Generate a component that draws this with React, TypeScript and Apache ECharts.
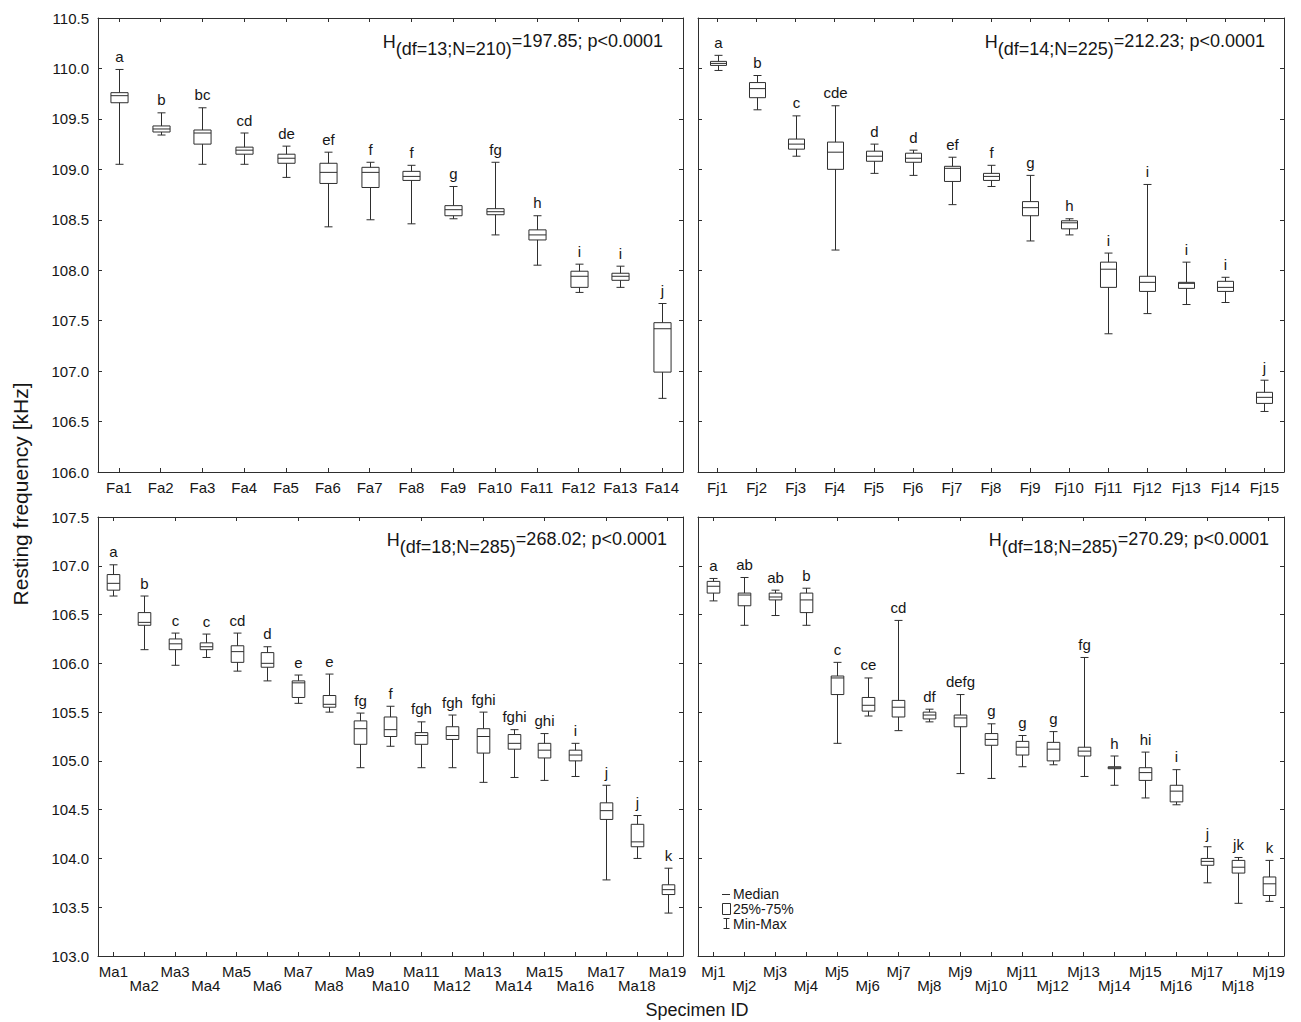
import React, { useEffect, useRef } from 'react';
import * as echarts from 'echarts';

const FONT = '"Liberation Sans", Arial, Helvetica, sans-serif';
const LINE = '#2e2e2e';
const TXT = '#161616';

// ---- Top-left panel (Fa) ----
const faCats = ['Fa1', 'Fa2', 'Fa3', 'Fa4', 'Fa5', 'Fa6', 'Fa7', 'Fa8', 'Fa9', 'Fa10', 'Fa11', 'Fa12', 'Fa13', 'Fa14'];
const faMin = [109.05, 109.34, 109.05, 109.05, 108.92, 108.43, 108.5, 108.46, 108.51, 108.35, 108.05, 107.78, 107.83, 106.73];
const faQ1 = [109.66, 109.37, 109.25, 109.15, 109.06, 108.86, 108.82, 108.89, 108.54, 108.55, 108.3, 107.83, 107.9, 106.99];
const faMed = [109.73, 109.4, 109.36, 109.19, 109.11, 108.97, 108.97, 108.93, 108.6, 108.58, 108.35, 107.94, 107.94, 107.42];
const faQ3 = [109.76, 109.43, 109.39, 109.22, 109.15, 109.06, 109.02, 108.98, 108.64, 108.61, 108.4, 107.99, 107.97, 107.48];
const faMax = [109.99, 109.56, 109.61, 109.36, 109.23, 109.17, 109.07, 109.04, 108.83, 109.07, 108.54, 108.06, 108.04, 107.67];
const faLetters = ['a', 'b', 'bc', 'cd', 'de', 'ef', 'f', 'f', 'g', 'fg', 'h', 'i', 'i', 'j'];

// ---- Top-right panel (Fj) ----
const fjCats = ['Fj1', 'Fj2', 'Fj3', 'Fj4', 'Fj5', 'Fj6', 'Fj7', 'Fj8', 'Fj9', 'Fj10', 'Fj11', 'Fj12', 'Fj13', 'Fj14', 'Fj15'];
const fjMin = [109.98, 109.59, 109.13, 108.2, 108.96, 108.94, 108.65, 108.83, 108.29, 108.35, 107.37, 107.57, 107.66, 107.68, 106.6];
const fjQ1 = [110.03, 109.71, 109.2, 109.0, 109.08, 109.07, 108.88, 108.89, 108.54, 108.41, 107.83, 107.79, 107.82, 107.79, 106.68];
const fjMed = [110.05, 109.8, 109.25, 109.17, 109.13, 109.11, 109.01, 108.93, 108.62, 108.47, 108.01, 107.88, 107.87, 107.83, 106.74];
const fjQ3 = [110.07, 109.86, 109.3, 109.27, 109.18, 109.16, 109.03, 108.96, 108.68, 108.49, 108.08, 107.94, 107.88, 107.89, 106.79];
const fjMax = [110.13, 109.93, 109.53, 109.63, 109.25, 109.19, 109.12, 109.04, 108.94, 108.51, 108.17, 108.85, 108.08, 107.93, 106.91];
const fjLetters = ['a', 'b', 'c', 'cde', 'd', 'd', 'ef', 'f', 'g', 'h', 'i', 'i', 'i', 'i', 'j'];

// ---- Bottom-left panel (Ma) ----
const maCats = ['Ma1', 'Ma2', 'Ma3', 'Ma4', 'Ma5', 'Ma6', 'Ma7', 'Ma8', 'Ma9', 'Ma10', 'Ma11', 'Ma12', 'Ma13', 'Ma14', 'Ma15', 'Ma16', 'Ma17', 'Ma18', 'Ma19'];
const maMin = [106.69, 106.14, 105.98, 106.06, 105.92, 105.82, 105.59, 105.5, 104.93, 105.15, 104.93, 104.93, 104.78, 104.83, 104.8, 104.84, 103.78, 104.0, 103.44];
const maQ1 = [106.75, 106.39, 106.14, 106.14, 106.01, 105.96, 105.65, 105.55, 105.17, 105.25, 105.17, 105.22, 105.08, 105.12, 105.03, 105.0, 104.4, 104.12, 103.63];
const maMed = [106.82, 106.42, 106.2, 106.17, 106.12, 106.0, 105.8, 105.58, 105.33, 105.32, 105.26, 105.26, 105.25, 105.18, 105.11, 105.06, 104.49, 104.17, 103.68];
const maQ3 = [106.91, 106.52, 106.25, 106.21, 106.18, 106.11, 105.82, 105.67, 105.41, 105.45, 105.29, 105.35, 105.33, 105.27, 105.18, 105.11, 104.57, 104.35, 103.73];
const maMax = [107.01, 106.69, 106.31, 106.3, 106.31, 106.17, 105.88, 105.89, 105.49, 105.56, 105.4, 105.47, 105.5, 105.32, 105.28, 105.18, 104.75, 104.44, 103.9];
const maLetters = ['a', 'b', 'c', 'c', 'cd', 'd', 'e', 'e', 'fg', 'f', 'fgh', 'fgh', 'fghi', 'fghi', 'ghi', 'i', 'j', 'j', 'k'];

// ---- Bottom-right panel (Mj) ----
const mjCats = ['Mj1', 'Mj2', 'Mj3', 'Mj4', 'Mj5', 'Mj6', 'Mj7', 'Mj8', 'Mj9', 'Mj10', 'Mj11', 'Mj12', 'Mj13', 'Mj14', 'Mj15', 'Mj16', 'Mj17', 'Mj18', 'Mj19'];
const mjMin = [106.64, 106.39, 106.49, 106.39, 105.18, 105.46, 105.31, 105.4, 104.87, 104.82, 104.94, 104.96, 104.84, 104.75, 104.62, 104.55, 103.75, 103.54, 103.56];
const mjQ1 = [106.72, 106.59, 106.65, 106.52, 105.68, 105.51, 105.45, 105.43, 105.35, 105.16, 105.06, 105.0, 105.05, 104.92, 104.8, 104.58, 103.93, 103.85, 103.62];
const mjMed = [106.79, 106.7, 106.68, 106.65, 105.85, 105.57, 105.55, 105.47, 105.44, 105.22, 105.14, 105.12, 105.1, 104.93, 104.88, 104.69, 103.97, 103.91, 103.74];
const mjQ3 = [106.84, 106.72, 106.72, 106.72, 105.87, 105.65, 105.62, 105.5, 105.47, 105.28, 105.2, 105.19, 105.14, 104.94, 104.93, 104.75, 104.0, 103.98, 103.81];
const mjMax = [106.87, 106.88, 106.75, 106.77, 106.01, 105.85, 106.44, 105.53, 105.68, 105.38, 105.26, 105.3, 106.06, 105.05, 105.09, 104.91, 104.12, 104.01, 103.98];
const mjLetters = ['a', 'ab', 'ab', 'b', 'c', 'ce', 'cd', 'df', 'defg', 'g', 'g', 'g', 'fg', 'h', 'hi', 'i', 'j', 'jk', 'k'];

// ---- Kruskal-Wallis annotations ----
const statDf = [13, 14, 18, 18];
const statN = [210, 225, 285, 285];
const statH = ['197.85', '212.23', '268.02', '270.29'];

const yTitle = 'Resting frequency [kHz]';
const xTitle = 'Specimen ID';
const legendLabels = ['Median', '25%-75%', 'Min-Max'];

type Panel = {
  cats: string[]; min: number[]; q1: number[]; med: number[]; q3: number[]; max: number[]; letters: string[];
  grid: { left: number; top: number; width: number; height: number };
  yMin: number; yMax: number; showY: boolean; twoRow: boolean; statEnd: number; statY: number;
};

const panels: Panel[] = [
  { cats: faCats, min: faMin, q1: faQ1, med: faMed, q3: faQ3, max: faMax, letters: faLetters,
    grid: { left: 98, top: 18, width: 585, height: 454 }, yMin: 106, yMax: 110.5, showY: true, twoRow: false, statEnd: 663, statY: 41.5 },
  { cats: fjCats, min: fjMin, q1: fjQ1, med: fjMed, q3: fjQ3, max: fjMax, letters: fjLetters,
    grid: { left: 698, top: 18, width: 586, height: 454 }, yMin: 106, yMax: 110.5, showY: false, twoRow: false, statEnd: 1265, statY: 41.5 },
  { cats: maCats, min: maMin, q1: maQ1, med: maMed, q3: maQ3, max: maMax, letters: maLetters,
    grid: { left: 98, top: 517, width: 585, height: 439 }, yMin: 103, yMax: 107.5, showY: true, twoRow: true, statEnd: 667, statY: 540 },
  { cats: mjCats, min: mjMin, q1: mjQ1, med: mjMed, q3: mjQ3, max: mjMax, letters: mjLetters,
    grid: { left: 698, top: 517, width: 586, height: 439 }, yMin: 103, yMax: 107.5, showY: false, twoRow: true, statEnd: 1269, statY: 540 },
];

function makeRender(letters: string[]) {
  return (params: any, api: any) => {
    const i = api.value(0);
    const pMin = api.coord([i, api.value(1)]);
    const pQ1 = api.coord([i, api.value(2)]);
    const pMed = api.coord([i, api.value(3)]);
    const pQ3 = api.coord([i, api.value(4)]);
    const pMax = api.coord([i, api.value(5)]);
    const band = api.size([1, 0])[0];
    const half = band * 0.205;
    const cap = 4;
    const cx = Math.round(pMin[0]) + 0.5;
    const ls = { stroke: LINE, lineWidth: 1 };
    return {
      type: 'group',
      children: [
        { type: 'line', shape: { x1: cx, y1: pMax[1], x2: cx, y2: pMin[1] }, style: ls },
        { type: 'line', shape: { x1: cx - cap, y1: pMax[1], x2: cx + cap, y2: pMax[1] }, style: ls },
        { type: 'line', shape: { x1: cx - cap, y1: pMin[1], x2: cx + cap, y2: pMin[1] }, style: ls },
        { type: 'rect', shape: { x: cx - half, y: pQ3[1], width: half * 2, height: pQ1[1] - pQ3[1] },
          style: { fill: '#ffffff', stroke: LINE, lineWidth: 1 } },
        { type: 'line', shape: { x1: cx - half, y1: pMed[1], x2: cx + half, y2: pMed[1] }, style: ls },
        { type: 'text', x: cx, y: pMax[1] - 13,
          style: { text: letters[params.dataIndex], textAlign: 'center', textVerticalAlign: 'middle',
            align: 'center', verticalAlign: 'middle', fontSize: 15, fontFamily: FONT, fill: TXT } },
      ],
    };
  };
}

const axisLineStyle = { color: LINE, width: 1 };

export default function App() {
  const ref = useRef<HTMLDivElement>(null);
  useEffect(() => {
    if (!ref.current) return;
    const chart = echarts.init(ref.current, null, { renderer: 'svg' });

    const canvas = document.createElement('canvas');
    const ctx = canvas.getContext('2d') as CanvasRenderingContext2D;
    const measure = (s: string, size: number) => {
      ctx.font = `${size}px ${FONT}`;
      return ctx.measureText(s).width;
    };

    const grids: any[] = [];
    const xAxes: any[] = [];
    const yAxes: any[] = [];
    const series: any[] = [];
    const graphics: any[] = [];

    panels.forEach((p, gi) => {
      grids.push({ ...p.grid, containLabel: false });
      const xBase = {
        type: 'category', gridIndex: gi, data: p.cats, boundaryGap: true,
        axisLine: { show: true, lineStyle: axisLineStyle },
        axisTick: { show: true, inside: true, alignWithLabel: true, length: 4, lineStyle: axisLineStyle },
        splitLine: { show: false },
      };
      xAxes.push({
        ...xBase, position: 'bottom',
        axisLabel: {
          show: true, interval: 0, margin: 8, fontSize: 15, fontFamily: FONT, color: TXT, lineHeight: 14,
          formatter: p.twoRow ? (v: string, idx: number) => (idx % 2 === 1 ? '\n' + v : v) : (v: string) => v,
        },
      });
      xAxes.push({ ...xBase, position: 'top', axisLabel: { show: false } });
      const yBase = {
        type: 'value', gridIndex: gi, min: p.yMin, max: p.yMax, interval: 0.5,
        axisLine: { show: true, lineStyle: axisLineStyle },
        axisTick: { show: true, inside: true, length: 4, lineStyle: axisLineStyle },
        splitLine: { show: false },
      };
      yAxes.push({
        ...yBase, position: 'left',
        axisLabel: { show: p.showY, margin: 9, fontSize: 15, fontFamily: FONT, color: TXT,
          formatter: (v: number) => v.toFixed(1) },
      });
      yAxes.push({ ...yBase, position: 'right', axisLabel: { show: false } });

      series.push({
        type: 'custom', xAxisIndex: gi * 2, yAxisIndex: gi * 2, silent: true, clip: false,
        renderItem: makeRender(p.letters),
        encode: { x: 0, y: [1, 2, 3, 4, 5] },
        data: p.cats.map((_, i) => [i, p.min[i], p.q1[i], p.med[i], p.q3[i], p.max[i]]),
      });

      // Stat annotation H(df=..;N=..)=...; p<0.0001
      const sH = 'H';
      const sSub = `(df=${statDf[gi]};N=${statN[gi]})`;
      const sSup = `=${statH[gi]}; p<0.0001`;
      const fs = 18;
      const wH = measure(sH, fs);
      const wSub = measure(sSub, fs);
      const wSup = measure(sSup, fs);
      const x0 = p.statEnd - (wH + wSub + wSup);
      const common = { fontSize: fs, fontFamily: FONT, fill: TXT, textAlign: 'left', align: 'left',
        textVerticalAlign: 'middle', verticalAlign: 'middle' };
      graphics.push({ type: 'text', x: x0, y: p.statY, silent: true, style: { ...common, text: sH } });
      graphics.push({ type: 'text', x: x0 + wH, y: p.statY + 7, silent: true, style: { ...common, text: sSub } });
      graphics.push({ type: 'text', x: x0 + wH + wSub, y: p.statY - 1, silent: true, style: { ...common, text: sSup } });
    });

    // Axis titles
    graphics.push({ type: 'text', x: 20, y: 494, rotation: Math.PI / 2, silent: true,
      style: { text: yTitle, fontSize: 21, fontFamily: FONT, fill: TXT, textAlign: 'center', align: 'center',
        textVerticalAlign: 'middle', verticalAlign: 'middle' } });
    graphics.push({ type: 'text', x: 697, y: 1010, silent: true,
      style: { text: xTitle, fontSize: 18, fontFamily: FONT, fill: TXT, textAlign: 'center', align: 'center',
        textVerticalAlign: 'middle', verticalAlign: 'middle' } });

    // Legend (bottom-right panel)
    const lstyle = { stroke: LINE, lineWidth: 1 };
    graphics.push({ type: 'line', silent: true, shape: { x1: 722, y1: 894.5, x2: 730, y2: 894.5 }, style: lstyle });
    graphics.push({ type: 'rect', silent: true, shape: { x: 722.5, y: 903.5, width: 8, height: 11 }, style: { fill: '#fff', stroke: LINE, lineWidth: 1 } });
    graphics.push({ type: 'line', silent: true, shape: { x1: 726.5, y1: 918, x2: 726.5, y2: 929 }, style: lstyle });
    graphics.push({ type: 'line', silent: true, shape: { x1: 723.5, y1: 918.5, x2: 729.5, y2: 918.5 }, style: lstyle });
    graphics.push({ type: 'line', silent: true, shape: { x1: 723.5, y1: 928.5, x2: 729.5, y2: 928.5 }, style: lstyle });
    const legendY = [894, 909, 924];
    legendLabels.forEach((t, i) => {
      graphics.push({ type: 'text', x: 733, y: legendY[i], silent: true,
        style: { text: t, fontSize: 14, lineHeight: 14, fontFamily: FONT, fill: TXT, textAlign: 'left', align: 'left',
          textVerticalAlign: 'middle', verticalAlign: 'middle' } });
    });

    chart.setOption({
      animation: false,
      backgroundColor: '#ffffff',
      grid: grids,
      xAxis: xAxes,
      yAxis: yAxes,
      series,
      graphic: graphics,
    });
    return () => chart.dispose();
  }, []);

  return (
    <div
      ref={ref}
      style={{ position: 'absolute', left: 0, top: 0, width: 1301, height: 1022, background: '#fff' }}
    />
  );
}
